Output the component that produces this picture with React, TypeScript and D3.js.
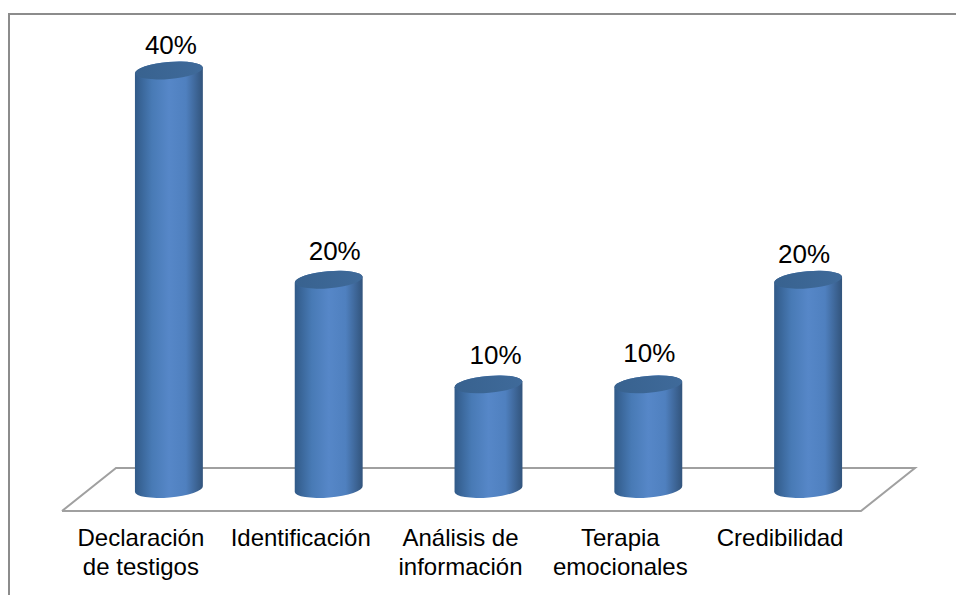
import React from 'react';
import {scaleBand, scaleLinear, line} from 'd3';

const categories = [
  ['Declaración', 'de testigos'],
  ['Identificación'],
  ['Análisis de', 'información'],
  ['Terapia', 'emocionales'],
  ['Credibilidad'],
];
const values = [40, 20, 10, 10, 20];

// hand tweaks for the data labels, they don't sit exactly over the bars
const labelNudge = [
  [2, 0],
  [6, -3],
  [7, -4],
  [1, -6],
  [-4, 0],
];

const WIDTH = 956;
const HEIGHT = 595;
const BASE_Y = 489;
const TILT = -5;
const RY = 8.5;

const y = scaleLinear().domain([0, 40]).range([BASE_Y, 70.5]);

// bars stand in the middle of the floor, labels run along its front edge
const barX = scaleBand<number>()
  .domain(values.map((_, i) => i))
  .range([89, 888])
  .paddingInner(0.575)
  .paddingOuter(0.2875);
const labelX = scaleBand<number>()
  .domain(values.map((_, i) => i))
  .range([62, 861]);

const floorPoints: [number, number][] = [
  [62, 511],
  [116, 468],
  [915, 468],
  [861, 511],
  [62, 511],
];
const floorPath = line()(floorPoints) || '';

const cylinderPath = (cx: number, top: number, rx: number) => {
  const rad = (TILT * Math.PI) / 180;
  const dy = rx * Math.sin(rad);
  return `M${cx - rx},${top - dy}
    L${cx - rx},${BASE_Y - dy}
    A${rx},${RY} ${TILT} 0 0 ${cx + rx},${BASE_Y + dy}
    L${cx + rx},${top + dy}
    A${rx},${RY} ${TILT} 0 0 ${cx - rx},${top - dy}Z`;
};

export default function App() {
  const rx = barX.bandwidth() / 2;
  return (
    <svg
      width={WIDTH}
      height={HEIGHT}
      style={{position: 'absolute', left: 0, top: 0, background: '#fff'}}
      fontFamily="'Liberation Sans', Arial, sans-serif">
      <defs>
        <linearGradient id="barFill" x1="0" x2="1" y1="0" y2="0">
          <stop offset="0" stopColor="#315a88" />
          <stop offset="0.25" stopColor="#487ab5" />
          <stop offset="0.5" stopColor="#5687c8" />
          <stop offset="0.75" stopColor="#4f80bf" />
          <stop offset="1" stopColor="#32547c" />
        </linearGradient>
        <linearGradient id="capFill" x1="0" x2="1" y1="0" y2="0">
          <stop offset="0" stopColor="#38628f" />
          <stop offset="1" stopColor="#3f6a9a" />
        </linearGradient>
      </defs>
      <path d={`M9,${HEIGHT} L9,14 L${WIDTH},14`} fill="none" stroke="#8c8c8c" strokeWidth={2} />
      <path d={floorPath} fill="none" stroke="#a0a0a0" strokeWidth={2} />
      {values.map((v, i) => {
        const cx = (barX(i) || 0) + rx;
        const top = y(v);
        return (
          <g key={i}>
            <path d={cylinderPath(cx, top, rx)} fill="url(#barFill)" />
            <ellipse
              cx={cx}
              cy={top}
              rx={rx}
              ry={RY}
              transform={`rotate(${TILT} ${cx} ${top})`}
              fill="url(#capFill)"
            />
            <text
              x={cx + labelNudge[i][0]}
              y={top - 16.5 + labelNudge[i][1]}
              textAnchor="middle"
              fontSize={26}
              fill="#000">
              {v}%
            </text>
          </g>
        );
      })}
      {categories.map((lines, i) => (
        <text
          key={i}
          textAnchor="middle"
          fontSize={24}
          fill="#000">
          {lines.map((l, j) => (
            <tspan key={j} x={(labelX(i) || 0) + labelX.bandwidth() / 2 - 1} y={546 + j * 29}>
              {l}
            </tspan>
          ))}
        </text>
      ))}
    </svg>
  );
}
